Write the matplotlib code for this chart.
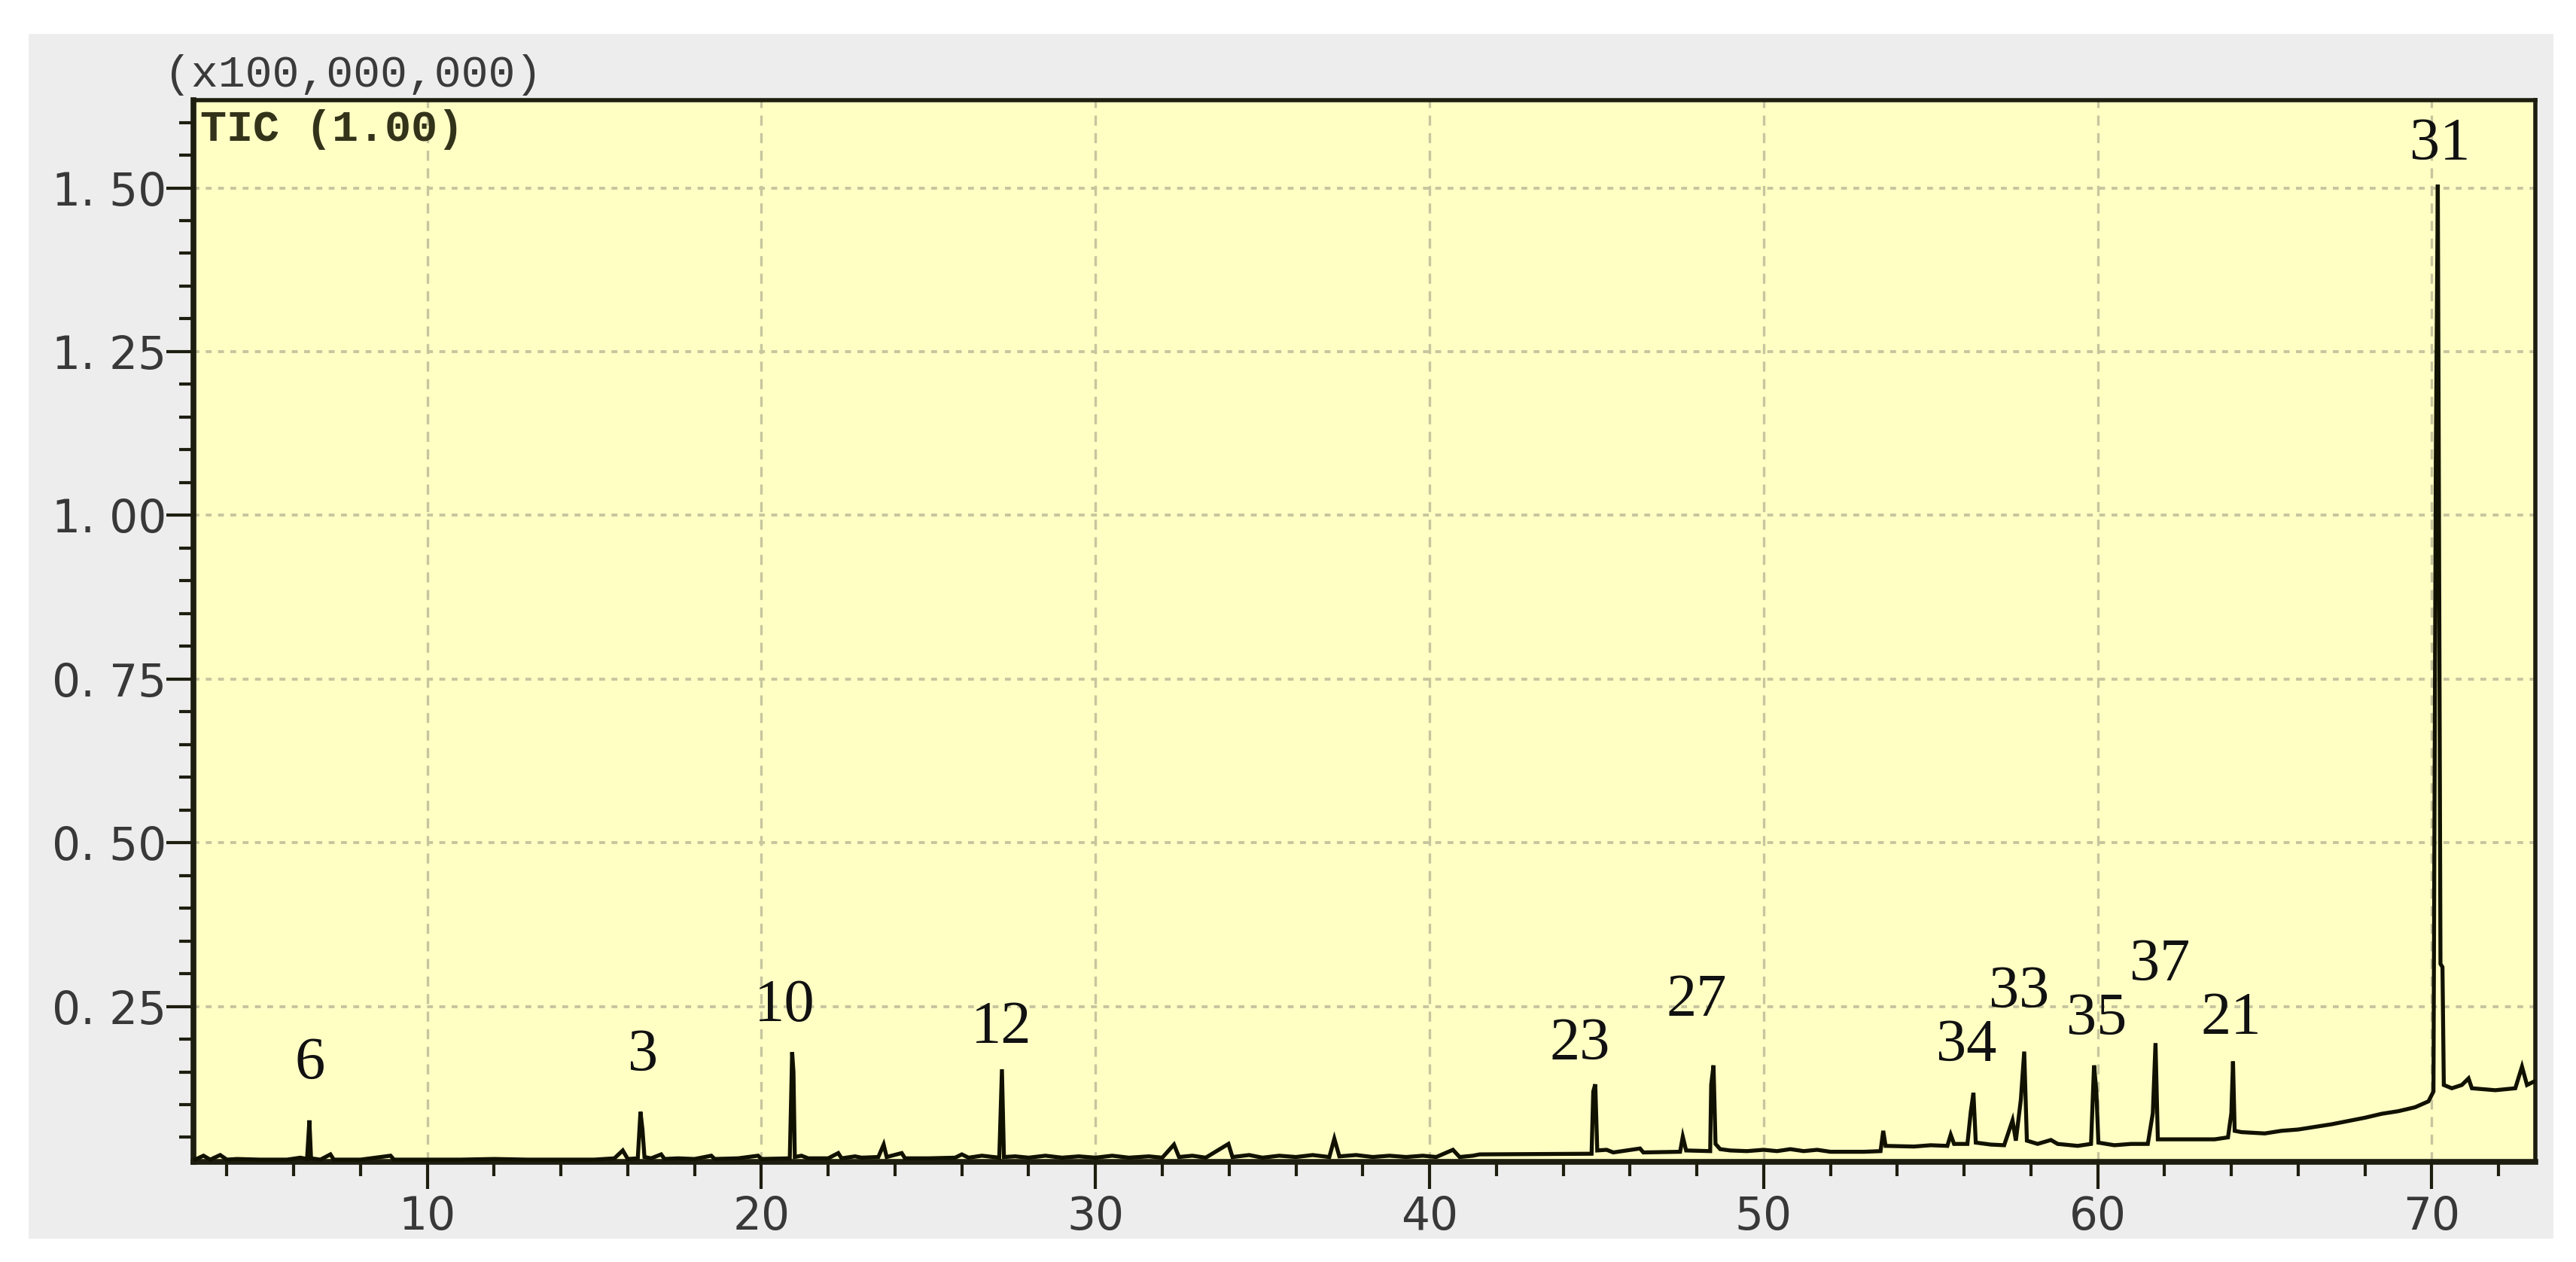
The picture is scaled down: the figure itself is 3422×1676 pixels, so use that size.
import matplotlib
matplotlib.use("Agg")
import matplotlib.pyplot as plt
from matplotlib.ticker import MultipleLocator, FixedLocator

# ---------------- data ----------------
rt = [3.05, 3.3, 3.5, 3.8, 4.0, 4.3, 5.0, 5.8, 6.2, 6.40, 6.47, 6.52, 6.8, 7.1, 7.2,
      8.0, 8.9, 9.0, 10.0, 11.0, 12.0, 13.0, 14.0, 15.0, 15.6, 15.85, 16.0, 16.3,
      16.38, 16.44, 16.5, 16.7, 17.0, 17.1, 17.5, 18.0, 18.5, 18.6, 19.3, 19.9, 20.0,
      20.85, 20.92, 20.96, 21.0, 21.2, 21.4, 22.0, 22.3, 22.4, 22.8, 23.0, 23.5, 23.66,
      23.75, 24.2, 24.3, 25.0, 25.8, 26.0, 26.2, 26.6, 27.12, 27.2, 27.26, 27.6, 28.0,
      28.5, 29.0, 29.5, 30.0, 30.5, 31.0, 31.6, 32.0, 32.35, 32.5, 32.9, 33.3, 33.98,
      34.1, 34.6, 35.0, 35.5, 36.0, 36.5, 37.0, 37.15, 37.3, 37.8, 38.3, 38.8, 39.3,
      39.8, 40.2, 40.7, 40.9, 41.3, 41.5, 44.85, 44.90, 44.96, 45.02, 45.3, 45.5, 46.3,
      46.4, 47.5, 47.58, 47.68, 48.4, 48.43, 48.5, 48.56, 48.7, 49.0, 49.5, 50.0, 50.4,
      50.8, 51.2, 51.6, 52.0, 52.5, 53.0, 53.5, 53.58, 53.65, 54.5, 55.0, 55.5, 55.6,
      55.7, 56.1, 56.2, 56.28, 56.35, 56.8, 57.2, 57.45, 57.55, 57.7, 57.8, 57.88, 58.2,
      58.6, 58.8, 59.4, 59.8, 59.89, 59.96, 60.02, 60.5, 61.0, 61.5, 61.65, 61.73, 61.8,
      62.5, 63.5, 63.9, 64.0, 64.05, 64.1, 64.3, 65.0, 65.5, 66.0, 66.5, 67.0, 67.5,
      68.0, 68.5, 69.0, 69.5, 69.9, 70.05, 70.12, 70.18, 70.21, 70.26, 70.32, 70.36,
      70.6, 70.9, 71.1, 71.2, 71.9, 72.5, 72.7, 72.85, 73.05]
intensity = [0.016, 0.022, 0.016, 0.023, 0.016, 0.017, 0.016, 0.016, 0.019, 0.017, 0.076, 0.018, 0.016, 0.024, 0.016,
             0.016, 0.022, 0.016, 0.016, 0.016, 0.017, 0.016, 0.016, 0.016, 0.018, 0.030, 0.017, 0.018,
             0.089, 0.062, 0.020, 0.018, 0.024, 0.017, 0.018, 0.017, 0.022, 0.017, 0.018, 0.022, 0.017,
             0.018, 0.180, 0.150, 0.020, 0.022, 0.018, 0.018, 0.026, 0.018, 0.021, 0.019, 0.020, 0.039,
             0.020, 0.026, 0.018, 0.018, 0.019, 0.024, 0.019, 0.022, 0.019, 0.154, 0.020, 0.021, 0.019,
             0.022, 0.019, 0.021, 0.019, 0.022, 0.019, 0.021, 0.019, 0.039, 0.020, 0.022, 0.019, 0.040,
             0.020, 0.023, 0.019, 0.022, 0.020, 0.023, 0.020, 0.048, 0.021, 0.023, 0.020, 0.022, 0.020,
             0.022, 0.020, 0.031, 0.020, 0.022, 0.024, 0.025, 0.120, 0.131, 0.030, 0.031, 0.027, 0.033,
             0.027, 0.028, 0.051, 0.030, 0.029, 0.130, 0.160, 0.040, 0.032, 0.030, 0.029, 0.031, 0.029,
             0.032, 0.029, 0.031, 0.028, 0.028, 0.028, 0.029, 0.060, 0.037, 0.036, 0.038, 0.037, 0.054,
             0.040, 0.040, 0.089, 0.118, 0.042, 0.039, 0.038, 0.076, 0.045, 0.108, 0.181, 0.045, 0.040,
             0.046, 0.040, 0.037, 0.040, 0.160, 0.120, 0.042, 0.038, 0.040, 0.040, 0.087, 0.194, 0.047,
             0.047, 0.047, 0.050, 0.087, 0.166, 0.060, 0.058, 0.056, 0.060, 0.062, 0.066, 0.070, 0.075,
             0.080, 0.086, 0.090, 0.096, 0.105, 0.120, 1.080, 1.505, 1.080, 0.315, 0.310, 0.130,
             0.125, 0.130, 0.140, 0.125, 0.122, 0.125, 0.158, 0.130, 0.135]

peak_labels = ["6", "3", "10", "12", "23", "27", "34", "33", "35", "37", "21", "31"]
label_x = [6.48, 16.45, 20.7, 27.18, 44.5, 48.0, 56.06, 57.64, 59.96, 61.85, 64.0, 70.25]
label_y = [0.162, 0.174, 0.25, 0.217, 0.192, 0.258, 0.189, 0.271, 0.229, 0.312, 0.231, 1.566]

x_ticks = [10, 20, 30, 40, 50, 60, 70]
x_tick_labels = ["10", "20", "30", "40", "50", "60", "70"]
y_ticks = [0.25, 0.50, 0.75, 1.00, 1.25, 1.50]
y_tick_labels = ["0. 25", "0. 50", "0. 75", "1. 00", "1. 25", "1. 50"]
scale_text = "(x100,000,000)"
trace_text = "TIC (1.00)"

# ---------------- figure ----------------
W, H = 3422, 1676
fig = plt.figure(figsize=(W / 100, H / 100), dpi=100, facecolor="white")

# grey window panel behind the plot
bg = fig.add_axes([38 / W, 1 - 1645 / H, (3392 - 38) / W, (1645 - 45) / H], zorder=-10)
bg.set_facecolor("#ededed")
bg.set_xticks([])
bg.set_yticks([])
for s in bg.spines.values():
    s.set_visible(False)

ax = fig.add_axes([257 / W, 1 - 1543 / H, (3368 - 257) / W, (1543 - 133) / H], zorder=1)
ax.set_facecolor("#ffffc4")
ax.set_xlim(3.0, 73.1)
ax.set_ylim(0.0126, 1.634)

grid_color = "#c6c59e"
ax.xaxis.set_major_locator(FixedLocator(x_ticks))
ax.yaxis.set_major_locator(FixedLocator(y_ticks))
ax.xaxis.set_minor_locator(MultipleLocator(2))
ax.yaxis.set_minor_locator(MultipleLocator(0.05))
ax.set_xticklabels(x_tick_labels)
ax.set_yticklabels(y_tick_labels)

for xv in x_ticks:
    ax.axvline(xv, color=grid_color, lw=2.4, ls=(0, (4, 3)), zorder=1)
for yv in y_ticks:
    ax.axhline(yv, color=grid_color, lw=2.8, ls=(0, (2, 2.2)), zorder=1)

ax.plot(rt, intensity, color="#111100", lw=3.8, zorder=3, solid_joinstyle="miter")

for s in ax.spines.values():
    s.set_color("#1e1e10")
    s.set_linewidth(4)
ax.spines["left"].set_linewidth(5.5)
ax.spines["bottom"].set_linewidth(5.5)

ax.tick_params(axis="y", which="major", direction="out", length=26, width=3, color="#1e1e10", pad=0)
ax.tick_params(axis="x", which="major", direction="out", length=26, width=3, color="#1e1e10", pad=6)
ax.tick_params(which="minor", direction="out", length=14, width=3, color="#1e1e10")
for lab in ax.get_xticklabels() + ax.get_yticklabels():
    lab.set_fontfamily(["DejaVu Sans"])
    lab.set_fontsize(43)
    lab.set_color("#383838")

for t, lx, ly in zip(peak_labels, label_x, label_y):
    ax.text(lx, ly, t, ha="center", va="center", fontsize=58,
            family=["Liberation Serif", "DejaVu Serif"], color="#111111", zorder=4)

ax.text(-0.0125, 1.004, scale_text, transform=ax.transAxes, ha="left", va="bottom",
        fontsize=43, family=["Liberation Mono", "DejaVu Sans Mono"], color="#3a3a3a")
ax.text(0.003, 0.972, trace_text, transform=ax.transAxes, ha="left", va="center",
        fontsize=42, family=["Liberation Mono", "DejaVu Sans Mono"], color="#33331a",
        weight="bold")

fig.savefig("out.png", dpi=100, facecolor="white")
